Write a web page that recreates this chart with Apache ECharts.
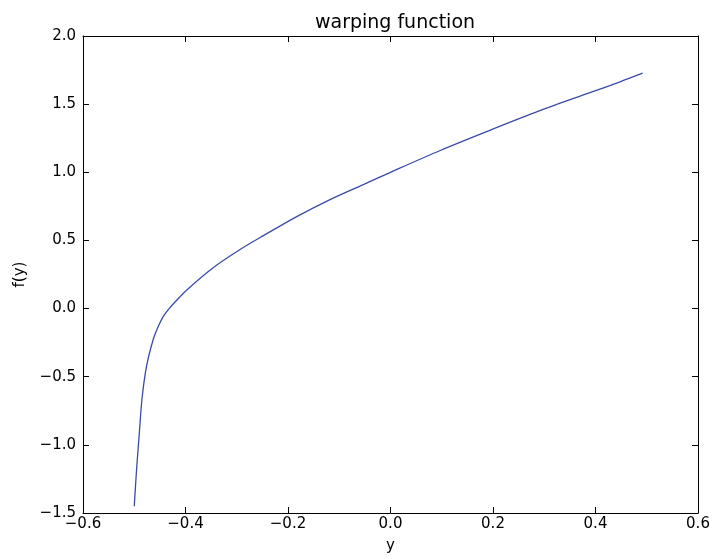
<!DOCTYPE html>
<html>
<head>
<meta charset="utf-8">
<script src="https://cdn.jsdelivr.net/npm/echarts@6/dist/echarts.min.js"></script>
<style>html,body{margin:0;padding:0;background:#fff}#c{width:713px;height:559px}</style>
</head>
<body>
<div id="c"></div>
<script>
const titleText = "warping function";
const xLabel = "y";
const yLabel = "f(y)";
const xVals = [-0.500, -0.495, -0.490, -0.485, -0.476, -0.463, -0.453, -0.443, -0.432, -0.420, -0.398, -0.346, -0.295, -0.248, -0.183, -0.118, -0.053, 0.000, 0.097, 0.194, 0.290, 0.389, 0.448, 0.492];
const yVals = [-1.45, -1.155, -0.91, -0.667, -0.423, -0.227, -0.13, -0.056, 0.0, 0.05, 0.135, 0.30, 0.43, 0.535, 0.675, 0.80, 0.91, 1.00, 1.16, 1.308, 1.45, 1.584, 1.664, 1.727];
const xTicks = {min: -0.6, max: 0.6, step: 0.2};
const yTicks = {min: -1.5, max: 2.0, step: 0.5};

const fmt = v => { const s = Number(v).toFixed(1); return s.replace('-', '\u2212'); };
const font = 'DejaVu Sans';
const chart = echarts.init(document.getElementById('c'), null, {renderer: 'canvas'});
const axisLine = {show: true, onZero: false, lineStyle: {color: '#000', width: 1}};
const tick = {show: true, inside: true, length: 6, lineStyle: {color: '#000', width: 1}};
const data = xVals.map((x, i) => [x, yVals[i]]);
chart.setOption({
  animation: false,
  backgroundColor: '#fff',
  title: {text: titleText, left: 390, top: 9, textAlign: 'center',
    textStyle: {fontFamily: font, fontSize: 19, fontWeight: 'normal', color: '#000'}},
  grid: {left: 83, right: 15, top: 36, bottom: 45},
  xAxis: [
    {type: 'value', position: 'bottom', min: xTicks.min, max: xTicks.max, interval: xTicks.step,
     axisLine, axisTick: tick, splitLine: {show: false},
     axisLabel: {formatter: fmt, margin: 4, color: '#000', fontFamily: font, fontSize: 15},
     name: xLabel, nameLocation: 'middle', nameGap: 26,
     nameTextStyle: {fontFamily: font, fontSize: 15, color: '#000'}},
    {type: 'value', position: 'top', min: xTicks.min, max: xTicks.max, interval: xTicks.step,
     axisLine, axisTick: tick, axisLabel: {show: false}, splitLine: {show: false}}
  ],
  yAxis: [
    {type: 'value', position: 'left', min: yTicks.min, max: yTicks.max, interval: yTicks.step,
     axisLine, axisTick: tick, splitLine: {show: false},
     axisLabel: {formatter: fmt, margin: 7, color: '#000', fontFamily: font, fontSize: 15},
     name: yLabel, nameLocation: 'middle', nameGap: 55, nameRotate: 90,
     nameTextStyle: {fontFamily: font, fontSize: 15, color: '#000'}},
    {type: 'value', position: 'right', min: yTicks.min, max: yTicks.max, interval: yTicks.step,
     axisLine, axisTick: tick, axisLabel: {show: false}, splitLine: {show: false}}
  ],
  series: [{
    type: 'line', data, smooth: 0.3, showSymbol: false, symbol: 'none',
    lineStyle: {color: '#3a4aa8', width: 1.3}
  }]
});
</script>
</body>
</html>
